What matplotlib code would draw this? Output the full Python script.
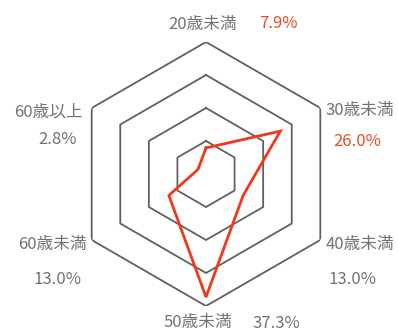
import numpy as np
import matplotlib
matplotlib.use("Agg")
import matplotlib.pyplot as plt

plt.rcParams['font.family'] = ['Noto Sans CJK JP', 'DejaVu Sans']

categories = ["20歳未満", "30歳未満", "40歳未満", "50歳未満", "60歳未満", "60歳以上"]
values = [7.9, 26.0, 13.0, 37.3, 13.0, 2.8]
value_labels = ["7.9%", "26.0%", "13.0%", "37.3%", "13.0%", "2.8%"]
rings = [10, 20, 30, 40]
highlight = [True, True, False, False, False, False]

W, H = 398, 335
fig = plt.figure(figsize=(W / 100, H / 100), dpi=100)
cx, cy, R = 206, 174, 132
ax = fig.add_axes([(cx - R) / W, (H - cy - R) / H, 2 * R / W, 2 * R / H], projection='polar')
ax.set_theta_offset(np.pi / 2)
ax.set_theta_direction(-1)
ax.set_ylim(0, 40)
ax.axis('off')

n = len(categories)
theta = np.arange(n) * 2 * np.pi / n
tc = np.append(theta, theta[0])

grid_color = '#606060'
for r in rings:
    ax.plot(tc, [r] * (n + 1), color=grid_color, lw=1.3, solid_joinstyle='miter')

vc = values + values[:1]
ax.plot(tc, vc, color='#f2381a', lw=2.0, solid_joinstyle='miter')

text_gray = '#727272'
red = '#f04a25'
fs = 12

# label layout (pixel positions: name, value)
layout = [
    ((203, 24), (278, 24)),
    ((360, 110), (357, 142)),
    ((360, 245), (353, 280)),
    ((198, 323), (276, 323)),
    ((52, 245), (57, 280)),
    ((48, 112), (58, 140)),
]
for cat, vl, hl, (p1, p2) in zip(categories, value_labels, highlight, layout):
    fig.text(p1[0] / W, 1 - p1[1] / H, cat, ha='center', va='center',
             color=text_gray, fontsize=fs)
    fig.text(p2[0] / W, 1 - p2[1] / H, vl, ha='center', va='center',
             color=red if hl else text_gray, fontsize=fs)

fig.savefig('out.png', dpi=100, facecolor='white')
